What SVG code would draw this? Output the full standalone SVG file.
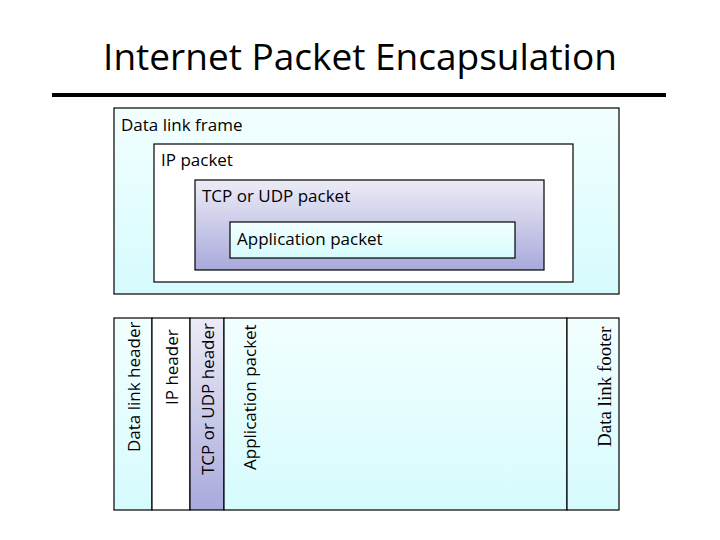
<svg xmlns="http://www.w3.org/2000/svg" width="720" height="540" viewBox="0 0 720 540">
<defs>
<linearGradient id="cy" x1="0" y1="0" x2="0" y2="1"><stop offset="0" stop-color="#f3ffff"/><stop offset="1" stop-color="#d6fbfd"/></linearGradient>
<linearGradient id="pu" x1="0" y1="0" x2="0" y2="1"><stop offset="0" stop-color="#ececf6"/><stop offset="1" stop-color="#a9a9dc"/></linearGradient>
<style>
rect{stroke:#000;stroke-width:1.2}
text{font-family:"Open Sans","Liberation Sans",sans-serif;fill:#000}
.l{font-size:17px}
.v{font-size:17px}
</style>
</defs>
<rect width="720" height="540" fill="#fff" style="stroke:none"/>
<text x="360" y="70" text-anchor="middle" font-size="37">Internet Packet Encapsulation</text>
<line x1="52" y1="95" x2="666" y2="95" stroke="#000" stroke-width="4"/>
<g id="frame"><rect x="114" y="108" width="505" height="186" fill="url(#cy)"/><text class="l" x="121" y="131">Data link frame</text></g>
<g id="ip"><rect x="154" y="144" width="419" height="138" fill="#fff"/><text class="l" x="161" y="166">IP packet</text></g>
<g id="tcp"><rect x="195" y="180" width="349" height="90" fill="url(#pu)"/><text class="l" x="202" y="202">TCP or UDP packet</text></g>
<g id="app"><rect x="230" y="222" width="285" height="36" fill="url(#cy)"/><text class="l" x="237" y="245">Application packet</text></g>
<g id="dlh"><rect x="114" y="318" width="38" height="192" fill="url(#cy)"/><text class="v" transform="translate(140,452) rotate(-90)">Data link header</text></g>
<g id="iph"><rect x="152" y="318" width="38" height="192" fill="#fff"/><text class="v" transform="translate(178,405) rotate(-90)">IP header</text></g>
<g id="tcph"><rect x="190" y="318" width="34" height="192" fill="url(#pu)"/><text class="v" transform="translate(214,475) rotate(-90)">TCP or UDP header</text></g>
<g id="appp"><rect x="224" y="318" width="343" height="192" fill="url(#cy)"/><text class="v" transform="translate(256,470) rotate(-90)">Application packet</text></g>
<g id="dlf"><rect x="567" y="318" width="52" height="192" fill="url(#cy)"/><text transform="translate(611,447) rotate(-90)" style="font-family:'Liberation Serif',serif;font-size:19px">Data link footer</text></g>
<g id="connectors"/>
</svg>
